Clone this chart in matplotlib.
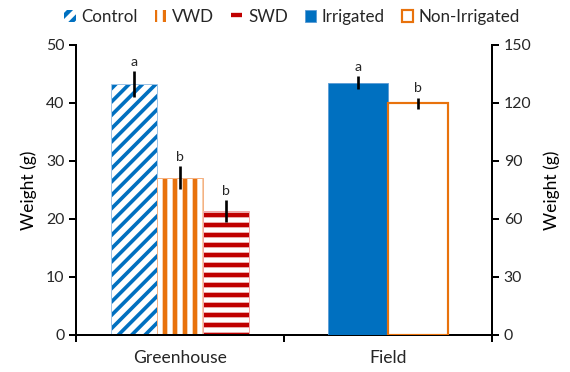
import matplotlib
matplotlib.use("Agg")
import matplotlib.pyplot as plt
import numpy as np

# Greenhouse (left axis)
gh_labels = ["Control", "VWD", "SWD"]
gh_means = [43.3, 27.1, 21.4]
gh_err = [2.2, 2.0, 1.9]
gh_letters = ["a", "b", "b"]

# Field (right axis)
fd_labels = ["Irrigated", "Non-Irrigated"]
fd_means = [130.5, 119.9]
fd_err = [3.3, 2.8]
fd_letters = ["a", "b"]

categories = ["Greenhouse", "Field"]

BLUE = "#0070C0"
ORANGE = "#E8720C"
RED = "#C00000"

plt.rcParams["font.family"] = ["Lato", "DejaVu Sans"]
plt.rcParams["hatch.linewidth"] = 2.6
plt.rcParams["text.color"] = "#262626"
plt.rcParams["xtick.labelcolor"] = "#262626"
plt.rcParams["ytick.labelcolor"] = "#262626"

DPI = 120
fig = plt.figure(figsize=(570 / DPI, 372 / DPI), dpi=DPI)
ax = fig.add_axes([76 / 570, 37 / 372, 416 / 570, 290 / 372])
ax2 = ax.twinx()

# greenhouse bars (hatched, with a light outline like the Excel original)
gh_w = 0.222
gh_x = 0.5 + (np.arange(len(gh_means)) - 1) * gh_w
gh_style = [(BLUE, "///", 2.2, "#9DC3E6"), (ORANGE, "||", 2.8, "#F4B183"),
            (RED, "--", 2.8, "#F1A7A7")]
handles = []
for x, m, (c, h, hlw, light), lab in zip(gh_x, gh_means, gh_style, gh_labels):
    b = ax.bar(x, m, gh_w, color="white", edgecolor=c, hatch=h, linewidth=0, label=lab)
    for p in b:
        if hasattr(p, "set_hatch_linewidth"):
            p.set_hatch_linewidth(hlw)
    ax.bar(x, m, gh_w, fill=False, edgecolor=light, linewidth=0.6)
    handles.append(b)
ax.errorbar(gh_x, gh_means, yerr=gh_err, fmt="none", ecolor="black", elinewidth=1.6, capsize=0)
for x, m, e, t in zip(gh_x, gh_means, gh_err, gh_letters):
    ax.annotate(t, (x, m + e), xytext=(0, 2), textcoords="offset points",
                ha="center", va="bottom", fontsize=8.5)

# field bars
fd_w = 0.289
fd_x = 1.5 + (np.arange(len(fd_means)) - 0.5) * fd_w
b = ax2.bar(fd_x[0], fd_means[0], fd_w, color=BLUE, edgecolor="#5B9BD5", linewidth=0.5, label=fd_labels[0])
handles.append(b)
b = ax2.bar(fd_x[1], fd_means[1], fd_w, color="white", edgecolor=ORANGE, linewidth=1.3, label=fd_labels[1])
handles.append(b)
ax2.errorbar(fd_x, fd_means, yerr=fd_err, fmt="none", ecolor="black", elinewidth=1.6, capsize=0)
for x, m, e, t in zip(fd_x, fd_means, fd_err, fd_letters):
    ax2.annotate(t, (x, m + e), xytext=(0, 2), textcoords="offset points",
                 ha="center", va="bottom", fontsize=8.5)

ax.set_xlim(0, 2)
ax.set_ylim(0, 50)
ax2.set_ylim(0, 150)
ax.set_yticks(np.arange(0, 51, 10))
ax2.set_yticks(np.arange(0, 151, 30))
ax.set_xticks([0, 1, 2])
ax.set_xticklabels([])
ax.set_xticks([0.5, 1.5], minor=True)
ax.set_xticklabels(categories, minor=True)
ax.tick_params(axis="x", which="minor", length=0, pad=9, labelsize=10.5)
ax.tick_params(axis="x", which="major", length=4, width=1.2, direction="out")
ax.tick_params(axis="y", length=4, width=1.2, direction="out", labelsize=9.5, pad=3)
ax2.tick_params(axis="y", length=4, width=1.2, direction="out", labelsize=9.5, pad=3)

for a in (ax, ax2):
    a.spines["top"].set_visible(False)
    for s in ("left", "right", "bottom"):
        a.spines[s].set_linewidth(1.2)
ax.spines["right"].set_visible(False)
ax2.spines["left"].set_visible(False)
ax2.spines["bottom"].set_visible(False)

ax.set_ylabel("Weight (g)", fontsize=10.5, labelpad=5)
ax2.set_ylabel("Weight (g)", fontsize=10.5, labelpad=7)

fig.legend(handles=handles, labels=gh_labels + fd_labels, loc="center",
           bbox_to_anchor=(0.513, 1 - 17 / 372), ncol=5, frameon=False,
           fontsize=10.2, handlelength=0.65, handleheight=0.65, handletextpad=0.35,
           columnspacing=1.0)

fig.savefig("out.png", dpi=DPI)
